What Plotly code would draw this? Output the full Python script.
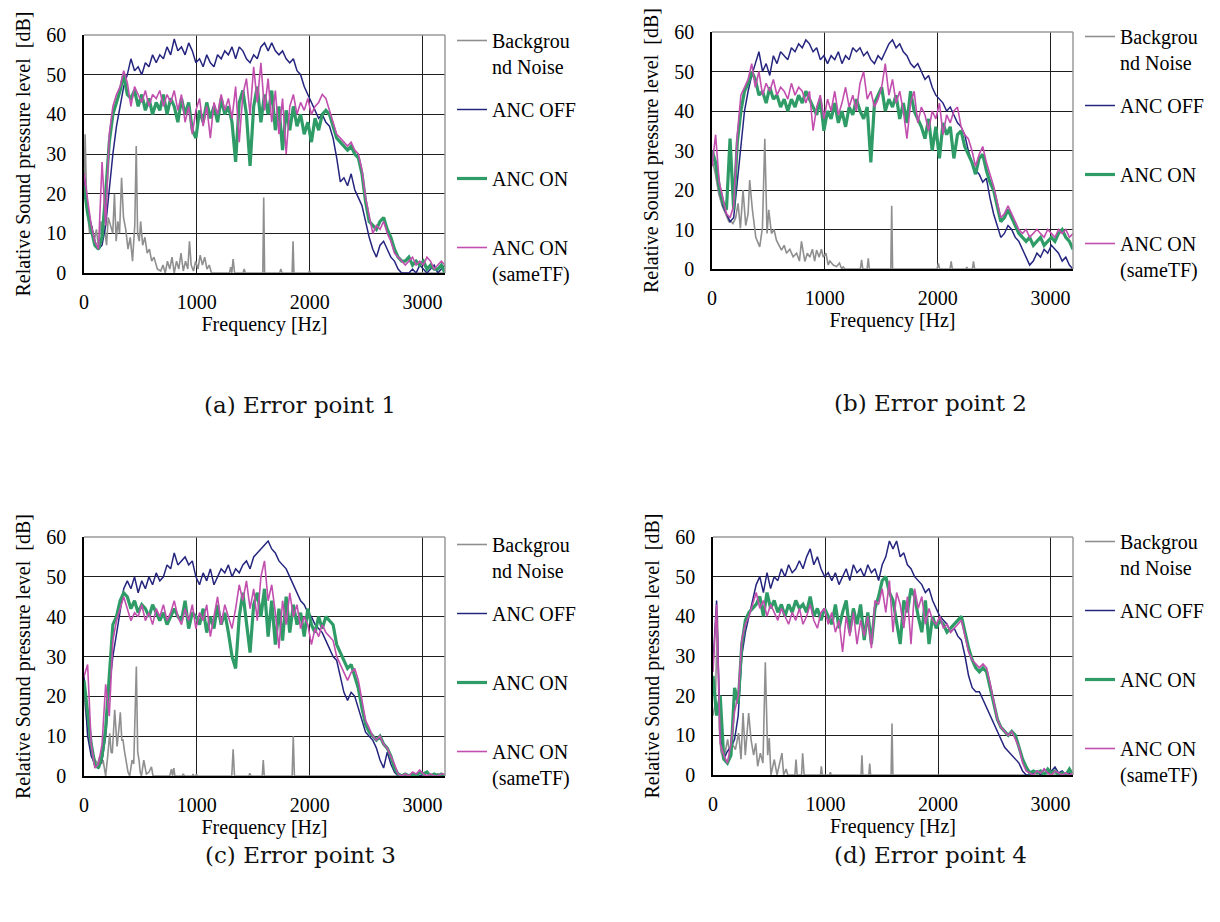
import plotly.graph_objects as go

# ---------------- data ----------------
FREQ_HZ = list(range(0, 3201, 32))  # common analysis grid of the spectra (Hz)

SERIES_NAMES = ["Backgrou<br>nd Noise", "ANC OFF<br> ", "ANC ON<br> ", "ANC ON<br>(sameTF)"]
CAPTIONS = ["(a) Error point 1", "(b) Error point 2", "(c) Error point 3", "(d) Error point 4"]
X_TICKS = [0, 1000, 2000, 3000]
Y_TICKS = [0, 10, 20, 30, 40, 50, 60]

# ---- (a) Error point 1 ----
a_bg_f = [0, 10, 20, 35, 50, 70, 90, 110, 130, 150, 165, 180, 200, 215, 235, 255, 270, 285, 300, 315,
          333, 350, 370, 390, 410, 430, 450, 463, 475, 490, 502, 520, 540, 560, 580, 600, 620, 650, 680, 700,
          720, 740, 760, 780, 800, 820, 840, 860, 880, 900, 920, 935, 950, 970, 990, 1010, 1030, 1050, 1070, 1090,
          1110, 1130, 1290, 1300, 1310, 1322, 1335, 1410, 1420, 1430, 1585, 1593, 1601, 1735, 1745, 1755, 1845, 1853, 1861, 1990,
          2000, 2010, 3200]
a_bg_v = [20, 35, 22, 14, 10, 12, 8, 11, 6, 13, 9, 12, 7, 14, 12, 10, 20, 8, 13, 10,
          24, 14, 11, 6, 9, 3, 12, 32, 10, 8, 13, 7, 9, 5, 6, 3, 4, 1, 0.5, 2,
          0, 3, 1, 4, 0, 3, 1, 5, 0.5, 3, 1, 8, 2, 0.5, 3, 1, 4.5, 2, 4, 1,
          2, 0, 0, 1.5, 0, 3.5, 0, 0, 1, 0, 0, 19, 0, 0, 1, 0, 0, 8, 0, 0,
          0.5, 0, 0]
a_off = [25, 17, 12, 8, 6, 7, 12, 22, 30, 37,
         42, 47, 50, 54, 51, 52, 50, 53, 52, 55,
         53, 55, 54, 57, 55, 59, 56, 57, 55, 58,
         56, 53, 54, 52, 55, 53, 52, 55, 54, 56,
         55, 57, 54, 57, 56, 54, 53, 55, 54, 57,
         58, 56, 58, 56, 55, 56, 54, 53, 54, 51,
         50, 47, 45, 43, 41, 39, 40, 38, 37, 34,
         29, 23, 24, 22, 25, 21, 19, 17, 13, 9,
         6, 4, 7, 8, 6, 4, 3, 1, 0, 0,
         0, 1, 0, 2, 1, 0, 1, 2, 0, 1, 2]
a_on = [22, 15, 11, 7, 6, 9, 20, 33, 40, 43,
        46, 50, 45, 44, 46, 42, 45, 41, 44, 40,
        43, 41, 45, 40, 44, 42, 38, 44, 40, 43,
        36, 34, 41, 38, 43, 39, 42, 38, 44, 40,
        42, 38, 28, 43, 46, 40, 27, 42, 47, 38,
        45, 40, 46, 36, 42, 31, 41, 36, 42, 37,
        40, 35, 38, 33, 39, 36, 40, 41, 40, 37,
        34, 33, 32, 31, 32, 30, 29, 25, 18, 13,
        12, 11, 13, 14, 11, 9, 6, 4, 3, 3,
        4, 2, 3, 2, 3, 1, 2, 1, 1, 2, 0]
a_tf = [25, 19, 12, 8, 6, 28, 12, 35, 42, 45,
        47, 51, 48, 42, 47, 45, 43, 46, 42, 45,
        44, 46, 42, 45, 43, 46, 41, 45, 38, 42,
        35, 41, 44, 37, 42, 34, 43, 40, 45, 41,
        44, 39, 47, 33, 45, 49, 40, 52, 43, 53,
        41, 49, 38, 46, 35, 44, 30, 42, 45, 40,
        43, 41, 44, 40, 42, 43, 45, 44, 41, 38,
        35, 34, 33, 32, 33, 31, 30, 26, 19, 14,
        10, 12, 11, 13, 10, 8, 5, 4, 3, 2,
        3, 4, 2, 3, 2, 4, 3, 1, 2, 3, 2]

# ---- (b) Error point 2 ----
b_bg_f = [0, 30, 60, 90, 120, 150, 170, 186, 210, 231, 252, 275, 299, 320, 334, 358, 388, 405, 423, 447,
          468, 488, 503, 527, 550, 571, 595, 616, 640, 660, 690, 719, 750, 775, 793, 823, 845, 867, 890, 910,
          927, 950, 970, 986, 1010, 1030, 1045, 1075, 1104, 1130, 1150, 1163, 1180, 1315, 1326, 1337, 1375, 1385, 1395, 1585,
          1593, 1601, 1995, 2007, 2017, 2110, 2120, 2130, 2250, 2259, 2268, 2308, 2318, 2328, 3200]
b_bg_v = [28, 24, 19, 16, 14, 12, 12, 11.5, 13, 16.6, 10.3, 20, 11, 14, 22.5, 15, 8, 7, 5.6, 10.5,
          33, 9, 15, 9, 10, 7.3, 6, 4.8, 6, 4, 5, 3.1, 4, 2, 7, 1.9, 4, 3, 5, 2,
          4.8, 3, 5, 3, 4, 1, 2, 1, 0.6, 1.5, 0, 0.5, 0, 0, 2.3, 0, 0, 2.7, 0, 0,
          16, 0, 0, 1.4, 0, 0, 1.9, 0, 0, 0.5, 0, 0, 1.9, 0, 0]
b_off = [30, 26, 20, 16, 14, 12, 13, 22, 32, 40,
         45, 49, 52, 55, 50, 52, 49, 54, 52, 55,
         54, 53, 56, 55, 57, 56, 58, 57, 55, 56,
         53, 54, 52, 54, 53, 55, 52, 54, 53, 56,
         55, 56, 54, 55, 53, 52, 54, 53, 55, 57,
         58, 56, 57, 55, 54, 52, 51, 52, 50, 48,
         49, 46, 44, 43, 42, 40, 41, 39, 37, 36,
         34, 30, 27, 25, 24, 22, 23, 18, 14, 11,
         8, 9, 11, 10, 8, 7, 5, 3, 1, 2,
         4, 3, 5, 4, 6, 5, 4, 2, 3, 1, 0]
b_on = [30, 27, 21, 17, 15, 33, 15, 32, 40, 45,
        47, 50, 48, 44, 45, 42, 46, 43, 44, 41,
        43, 40, 43, 41, 44, 42, 45, 43, 41, 39,
        43, 35, 40, 38, 42, 37, 40, 36, 41, 39,
        43, 40, 38, 41, 27, 42, 44, 46, 40, 43,
        41, 44, 38, 42, 37, 45, 40, 38, 36, 33,
        38, 30, 36, 28, 37, 34, 36, 28, 34, 35,
        31, 29, 27, 24, 28, 29, 25, 22, 20, 16,
        12, 13, 15, 13, 11, 9, 8, 7, 8, 6,
        7, 8, 6, 7, 8, 7, 9, 10, 8, 7, 5]
b_tf = [26, 34, 22, 18, 14, 13, 16, 34, 44, 46,
        48, 52, 46, 50, 44, 47, 45, 48, 44, 46,
        45, 43, 47, 44, 46, 45, 42, 45, 35, 41,
        44, 38, 43, 40, 45, 39, 42, 46, 41, 44,
        40, 47, 50, 43, 45, 41, 43, 46, 52, 44,
        48, 42, 45, 40, 33, 42, 45, 37, 41, 39,
        35, 40, 38, 42, 34, 39, 37, 40, 41, 36,
        34, 33, 30, 26, 29, 31, 27, 24, 21, 17,
        13, 14, 16, 14, 12, 10, 9, 10, 8, 9,
        10, 9, 8, 10, 9, 8, 10, 9, 10, 8, 9]

# ---- (c) Error point 3 ----
c_bg_f = [0, 20, 40, 60, 80, 100, 120, 140, 155, 169, 192, 210, 228, 240, 251, 272, 293, 310, 322, 335,
          346, 360, 376, 390, 405, 426, 441, 464, 476, 488, 498, 509, 530, 553, 575, 598, 612, 760, 775, 785,
          796, 806, 870, 880, 890, 960, 967, 975, 990, 997, 1005, 1310, 1322, 1334, 1460, 1470, 1480, 1580, 1589, 1598,
          1845, 1855, 1865, 3200]
c_bg_v = [20, 15, 10, 7, 5, 4, 3, 5, 3, 4, 0, 5, 10.7, 6, 5.7, 16.6, 7.4, 12, 16, 9,
          9, 6, 3.2, 1, 0, 4, 3, 27.5, 6, 4, 1, 0, 4, 0.5, 1, 2.3, 0, 0, 1.7, 0,
          2, 0, 0, 0.5, 0, 0, 0.5, 0, 0, 0.5, 0, 0, 6.7, 0, 0, 0.7, 0, 0, 4, 0,
          0, 10, 0, 0]
c_off = [25, 10, 5, 3, 2, 4, 10, 22, 30, 36,
         42, 47, 49, 47, 50, 46, 49, 47, 50, 48,
         51, 49, 50, 53, 52, 56, 53, 54, 55, 53,
         54, 50, 48, 51, 49, 52, 48, 50, 52, 51,
         53, 50, 52, 51, 53, 54, 52, 55, 56, 57,
         58, 59, 57, 56, 54, 53, 52, 50, 48, 46,
         44, 43, 41, 40, 38, 37, 36, 34, 32, 30,
         29, 25, 21, 19, 21, 20, 17, 14, 11, 10,
         9, 7, 4, 2, 6, 3, 1, 0, 0, 0,
         0, 0.5, 0, 0, 0.5, 0, 0, 0, 0.5, 0, 0]
c_on = [24, 15, 8, 3, 2, 5, 12, 25, 38, 40,
        44, 46, 45, 42, 44, 41, 43, 42, 40, 43,
        41, 39, 41, 38, 40, 42, 40, 39, 44, 37,
        41, 40, 38, 42, 36, 40, 37, 43, 38, 41,
        36, 30, 27, 40, 46, 38, 31, 43, 46, 40,
        47, 35, 44, 33, 42, 34, 45, 36, 43, 38,
        41, 35, 42, 38, 36, 40, 37, 40, 39, 38,
        33, 31, 29, 27, 28, 25, 22, 17, 13, 11,
        10, 9, 10, 8, 7, 5, 2, 0.5, 0, 0.5,
        0, 0.5, 0, 1, 0.5, 1, 0, 0.5, 0, 0.5, 0]
c_tf = [25, 28, 8, 2, 3, 8, 23, 15, 34, 39,
        42, 45, 42, 39, 41, 40, 43, 39, 41, 38,
        42, 40, 43, 39, 41, 44, 40, 38, 42, 39,
        43, 37, 41, 39, 43, 35, 40, 45, 38, 43,
        40, 37, 42, 48, 44, 49, 42, 47, 39, 50,
        54, 44, 48, 41, 32, 44, 38, 46, 40, 43,
        37, 40, 38, 33, 37, 35, 38, 36, 35, 34,
        30, 28, 26, 24, 26, 27, 24, 19, 14, 12,
        10, 9, 10, 8, 7, 5, 3, 0.5, 0, 0.5,
        0, 1, 0.5, 1.5, 0.5, 0, 0.5, 0, 0, 0.5, 0.5]

# ---- (d) Error point 4 ----
d_bg_f = [0, 20, 40, 55, 70, 90, 110, 130, 150, 170, 199, 228, 249, 267, 287, 317, 338, 361, 380, 397,
          421, 444, 465, 486, 500, 515, 545, 569, 613, 628, 650, 665, 728, 738, 748, 787, 797, 810, 955, 963,
          972, 1035, 1043, 1051, 1316, 1324, 1332, 1385, 1393, 1401, 1583, 1591, 1599, 3200]
d_bg_v = [15, 18, 40, 12, 6, 4, 6, 9, 5, 8, 6.4, 10.6, 4, 15.6, 5, 15.6, 9, 5, 8, 2.2,
          5.5, 3, 28.4, 5, 9.3, 0, 3.9, 0, 5.5, 0, 1.5, 0, 0, 3.9, 0, 0, 5.5, 0, 0, 2.2,
          0, 0, 0.7, 0, 0, 5, 0, 0, 2.9, 0, 0, 13, 0, 0]
d_off = [28, 44, 10, 4, 6, 7, 9, 15, 30, 36,
         40, 44, 48, 50, 46, 51, 47, 50, 49, 52,
         50, 53, 51, 52, 54, 52, 55, 57, 53, 55,
         52, 50, 51, 49, 51, 48, 50, 52, 49, 53,
         51, 52, 50, 53, 51, 52, 49, 53, 55, 59,
         57, 59, 55, 56, 53, 52, 50, 49, 48, 46,
         47, 44, 42, 40, 39, 38, 36, 37, 35, 34,
         30, 25, 22, 21, 21, 19, 17, 15, 13, 11,
         9, 7, 6, 5, 4, 3, 1, 0, 0, 0.5,
         1, 0, 1.5, 0.5, 1, 2, 0.5, 1, 0, 0.5, 0]
d_on = [25, 15, 20, 4, 3, 5, 22, 18, 33, 39,
        41, 42, 43, 45, 40, 46, 42, 44, 41, 43,
        40, 43, 41, 44, 42, 43, 41, 45, 40, 42,
        39, 42, 40, 38, 43, 37, 41, 44, 36, 42,
        38, 43, 34, 41, 33, 42, 45, 49, 50, 46,
        44, 39, 33, 44, 41, 47, 45, 40, 36, 44,
        33, 40, 37, 39, 38, 36, 37, 38, 39, 40,
        36, 32, 29, 27, 26, 27, 26, 22, 18, 14,
        12, 11, 10, 11, 10, 7, 4, 2, 0.5, 1,
        0.5, 1, 0, 1.5, 0.5, 1, 0, 0.5, 0, 1.5, 0]
d_tf = [26, 43, 8, 5, 3, 8, 16, 20, 34, 38,
        40, 43, 46, 42, 44, 40, 43, 41, 39, 42,
        40, 38, 41, 39, 42, 38, 40, 43, 39, 37,
        41, 42, 38, 41, 36, 39, 31, 40, 35, 41,
        33, 39, 35, 40, 32, 44, 43, 47, 41, 49,
        36, 46, 43, 37, 45, 33, 47, 42, 45, 38,
        42, 39, 38, 40, 37, 38, 36, 37, 38, 39,
        35, 31, 29, 28, 27, 28, 27, 23, 18, 14,
        12, 11, 10, 11, 9, 7, 3, 1, 0.5, 0,
        1, 0.5, 1.5, 0.5, 0, 1, 0.5, 0, 0.5, 0, 0.5]

for arr in (a_off, a_on, a_tf, b_off, b_on, b_tf, c_off, c_on, c_tf, d_off, d_on, d_tf):
    assert len(arr) == len(FREQ_HZ), len(arr)
for f, v in ((a_bg_f, a_bg_v), (b_bg_f, b_bg_v), (c_bg_f, c_bg_v), (d_bg_f, d_bg_v)):
    assert len(f) == len(v), (len(f), len(v))

# ---------------- styling / layout ----------------
W, H = 1220, 922
FONT = "Liberation Serif, Times New Roman, serif"
CAP_FONT = "DejaVu Serif, serif"
COLORS = ["#8f8f8f", "#25257f", "#2f9c67", "#c24fae"]
WIDTHS = [1.6, 1.5, 3.2, 1.6]


def px_x(v):
    return v / W


def px_y(v):
    return 1 - v / H


panels = [
    dict(ax="", plot=(84, 445, 35, 273), leg=(452, 21), cap=(300, 405), caption=CAPTIONS[0],
         bg=(a_bg_f, a_bg_v), lines=(a_off, a_on, a_tf)),
    dict(ax="2", plot=(712, 1073, 32, 269), leg=(1080, 17), cap=(930, 403), caption=CAPTIONS[1],
         bg=(b_bg_f, b_bg_v), lines=(b_off, b_on, b_tf)),
    dict(ax="3", plot=(84, 445, 537, 776), leg=(452, 525), cap=(300, 855), caption=CAPTIONS[2],
         bg=(c_bg_f, c_bg_v), lines=(c_off, c_on, c_tf)),
    dict(ax="4", plot=(713, 1073, 537, 775), leg=(1080, 522), cap=(930, 855), caption=CAPTIONS[3],
         bg=(d_bg_f, d_bg_v), lines=(d_off, d_on, d_tf)),
]

fig = go.Figure()
layout = dict(
    width=W, height=H, margin=dict(l=0, r=0, t=0, b=0),
    paper_bgcolor="white", plot_bgcolor="white",
    font=dict(family=FONT, size=20, color="black"),
    showlegend=True, annotations=[], shapes=[],
)

for i, p in enumerate(panels):
    xn = "x" + p["ax"]
    yn = "y" + p["ax"]
    leg = "legend" + ("" if i == 0 else str(i + 1))
    x0, x1, y0, y1 = p["plot"]

    series = [(p["bg"][0], p["bg"][1])] + [(FREQ_HZ, s) for s in p["lines"]]
    for k, (fx, vy) in enumerate(series):
        fig.add_trace(go.Scatter(
            x=fx, y=vy, mode="lines", name=SERIES_NAMES[k],
            line=dict(color=COLORS[k], width=WIDTHS[k]),
            xaxis=xn, yaxis=yn, legend=leg, legendgroup=f"p{i}s{k}",
            hoverinfo="skip",
        ))

    layout["xaxis" + p["ax"]] = dict(
        domain=[px_x(x0), px_x(x1)], anchor=yn, range=[0, 3200],
        tickvals=X_TICKS, ticktext=[str(t) for t in X_TICKS],
        showgrid=True, gridcolor="#1e1e1e", gridwidth=1, zeroline=False,
        showline=True, linecolor="black", linewidth=1.5, ticks="",
        ticklabelstandoff=10,
        tickfont=dict(family=FONT, size=20, color="black"),
        title=dict(text="Frequency [Hz]", font=dict(family=FONT, size=20, color="black"), standoff=5),
        automargin=False, fixedrange=True,
    )
    layout["yaxis" + p["ax"]] = dict(
        domain=[px_y(y1), px_y(y0)], anchor=xn, range=[0, 60],
        tickvals=Y_TICKS, ticktext=[str(t) for t in Y_TICKS],
        showgrid=True, gridcolor="#1e1e1e", gridwidth=1, zeroline=False,
        showline=True, linecolor="black", linewidth=1.5, ticks="",
        ticklabelstandoff=12,
        tickfont=dict(family=FONT, size=20, color="black"),
        title=dict(text="Relative Sound pressure level  [dB]",
                   font=dict(family=FONT, size=20, color="black"), standoff=10),
        automargin=False, fixedrange=True,
    )
    # grey frame on the top and right edges of the plot area
    layout["shapes"].append(dict(
        type="line", xref=xn + " domain", yref=yn + " domain", x0=0, x1=1, y0=1, y1=1,
        line=dict(color="#9a9a9a", width=1.5), layer="above",
    ))
    layout["shapes"].append(dict(
        type="line", xref=xn + " domain", yref=yn + " domain", x0=1, x1=1, y0=0, y1=1,
        line=dict(color="#9a9a9a", width=1.5), layer="above",
    ))
    lx, ly = p["leg"]
    layout[leg] = dict(
        x=px_x(lx), y=px_y(ly), xanchor="left", yanchor="top",
        bgcolor="rgba(0,0,0,0)", borderwidth=0,
        font=dict(family=FONT, size=20, color="black"),
        tracegroupgap=14, valign="top", itemwidth=30, traceorder="grouped",
    )
    cx, cy = p["cap"]
    layout["annotations"].append(dict(
        text=p["caption"], xref="paper", yref="paper", x=px_x(cx), y=px_y(cy),
        xanchor="center", yanchor="middle", showarrow=False,
        font=dict(family=CAP_FONT, size=23, color="#111111"),
    ))

fig.update_layout(**layout)
fig.write_html("out.html")
